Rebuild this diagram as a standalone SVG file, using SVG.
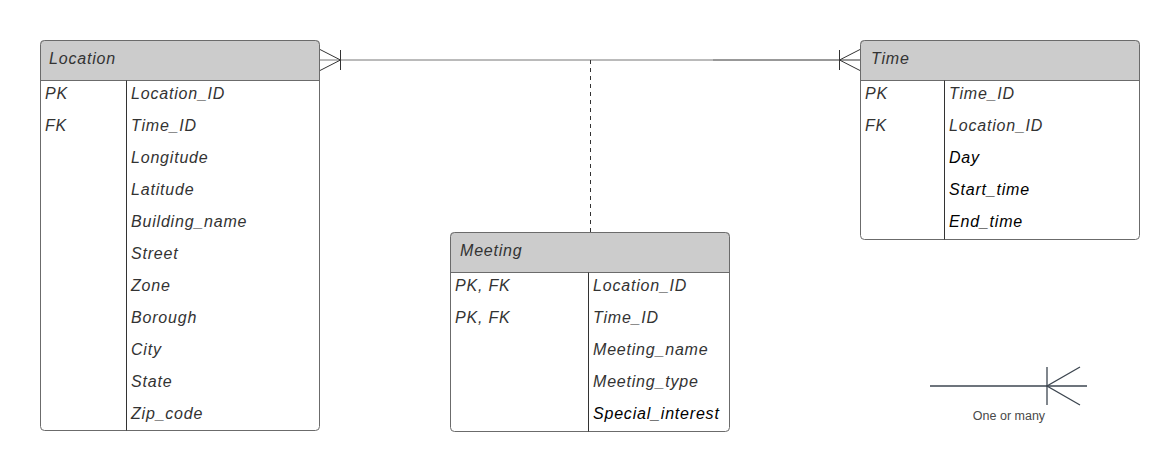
<svg xmlns="http://www.w3.org/2000/svg" width="1169" height="476" viewBox="0 0 1169 476">
<style>
.box{fill:none;stroke:#6b6b6b;stroke-width:1}
.hdr{fill:#cccccc}
.ln{stroke:#333333;stroke-width:1;fill:none}
.t{font-family:"Liberation Sans",Arial,sans-serif;font-size:16px;font-style:italic;letter-spacing:0.8px;fill:#333333;dominant-baseline:central}
.tb{fill:#000000}
.lg{font-family:"Liberation Sans",Arial,sans-serif;font-size:12.5px;fill:#4a4a4a}
</style>
<rect width="1169" height="476" fill="#ffffff"/>
<g id="connectors">
<line x1="320" y1="60" x2="713" y2="60" stroke="#777777" stroke-width="1"/>
<line x1="713" y1="60" x2="860" y2="60" stroke="#333333" stroke-width="1"/>
<polyline class="ln" points="320,49.5 340.5,60 320,70.5"/>
<line class="ln" x1="340.5" y1="50" x2="340.5" y2="70"/>
<polyline class="ln" points="860,49.5 839.5,60 860,70.5"/>
<line class="ln" x1="839.5" y1="50" x2="839.5" y2="70"/>
<line x1="590.5" y1="60" x2="590.5" y2="232" stroke="#333333" stroke-width="1" stroke-dasharray="4,4"/>
</g>
<g id="location">
<path class="hdr" d="M44,40 H316 Q320,40 320,44 V80 H40 V44 Q40,40 44,40 Z"/>
<rect class="box" x="40.5" y="40.5" width="279" height="390" rx="4"/>
<line x1="40.5" y1="80.5" x2="319.5" y2="80.5" stroke="#6b6b6b"/>
<line class="ln" x1="126.5" y1="80.5" x2="126.5" y2="430.5"/>
<text class="t" x="49" y="58">Location</text>
<text class="t" x="45" y="93">PK</text>
<text class="t" x="45" y="125">FK</text>
<text class="t" x="131" y="93">Location_ID</text>
<text class="t" x="131" y="125">Time_ID</text>
<text class="t" x="131" y="157">Longitude</text>
<text class="t" x="131" y="189">Latitude</text>
<text class="t" x="131" y="221">Building_name</text>
<text class="t" x="131" y="253">Street</text>
<text class="t" x="131" y="285">Zone</text>
<text class="t" x="131" y="317">Borough</text>
<text class="t" x="131" y="349">City</text>
<text class="t" x="131" y="381">State</text>
<text class="t" x="131" y="413">Zip_code</text>
</g>
<g id="time">
<path class="hdr" d="M864,40 H1136 Q1140,40 1140,44 V80 H860 V44 Q860,40 864,40 Z"/>
<rect class="box" x="860.5" y="40.5" width="279" height="199" rx="4"/>
<line x1="860.5" y1="80.5" x2="1139.5" y2="80.5" stroke="#6b6b6b"/>
<line class="ln" x1="944.5" y1="80.5" x2="944.5" y2="239.5"/>
<text class="t" x="871" y="58">Time</text>
<text class="t" x="865" y="93">PK</text>
<text class="t" x="865" y="125">FK</text>
<text class="t" x="949" y="93">Time_ID</text>
<text class="t" x="949" y="125">Location_ID</text>
<text class="t tb" x="949" y="157">Day</text>
<text class="t tb" x="949" y="189">Start_time</text>
<text class="t tb" x="949" y="221">End_time</text>
</g>
<g id="meeting">
<path class="hdr" d="M454,232 H726 Q730,232 730,236 V272 H450 V236 Q450,232 454,232 Z"/>
<rect class="box" x="450.5" y="232.5" width="279" height="199" rx="4"/>
<line x1="450.5" y1="272.5" x2="729.5" y2="272.5" stroke="#6b6b6b"/>
<line class="ln" x1="588.5" y1="272.5" x2="588.5" y2="431.5"/>
<text class="t" x="460" y="250">Meeting</text>
<text class="t" x="455" y="285">PK, FK</text>
<text class="t" x="455" y="317">PK, FK</text>
<text class="t" x="593" y="285">Location_ID</text>
<text class="t" x="593" y="317">Time_ID</text>
<text class="t" x="593" y="349">Meeting_name</text>
<text class="t" x="593" y="381">Meeting_type</text>
<text class="t tb" x="593" y="413">Special_interest</text>
</g>
<g id="legend">
<line x1="930" y1="386" x2="1087" y2="386" stroke="#3d4650" stroke-width="1.3"/>
<line x1="1047" y1="367" x2="1047" y2="405" stroke="#3d4650" stroke-width="1.3"/>
<polyline points="1080,367 1047,386 1080,405" fill="none" stroke="#3d4650" stroke-width="1.3"/>
<text class="lg" x="1009" y="419.5" text-anchor="middle">One or many</text>
</g>
</svg>
